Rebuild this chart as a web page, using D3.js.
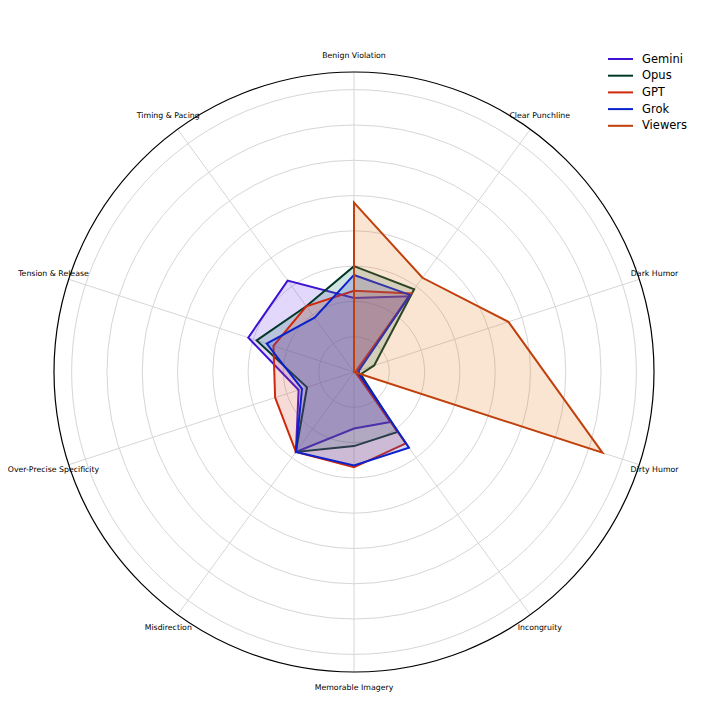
<!DOCTYPE html>
<html>
<head>
<meta charset="utf-8">
<script src="https://cdn.jsdelivr.net/npm/d3@7"></script>
<style>
  body { margin: 0; background: #fff; }
  svg { font-family: "DejaVu Sans", sans-serif; }
</style>
</head>
<body>
<div id="chart"></div>
<script>
const categories = [
  "Benign Violation", "Clear Punchline", "Dark Humor", "Dirty Humor", "Incongruity",
  "Memorable Imagery", "Misdirection", "Over-Precise Specificity", "Tension & Release", "Timing & Pacing"
];

const seriesNames = ["Gemini", "Opus", "GPT", "Grok", "Viewers"];

const gemini = [2.1, 2.65, 0.1, 0.1, 1.75, 1.6, 2.8, 1.65, 3.15, 3.2];
const opus = [3.0, 2.9, 0.6, 0.2, 2.1, 2.1, 2.8, 1.4, 2.9, 2.3];
const gpt = [2.3, 2.75, 0.05, 0.05, 2.5, 2.7, 2.8, 2.35, 2.4, 2.3];
const grok = [2.75, 2.7, 0.15, 0.15, 2.65, 2.65, 2.8, 1.55, 2.6, 1.9];
const viewers = [4.8, 3.3, 4.6, 7.4, 0, 0, 0, 0, 0, 0];

const ringTicks = [1, 2, 3, 4, 5, 6, 7, 8];
const rMax = 8.5;

const lineColors = ["#3d12d2", "#003828", "#d0280c", "#0a22cc", "#c0400c"];
const fillColors = ["#6a3df0", "#1a7a60", "#d94a30", "#2a3ad8", "#e07b20"];

const allSeries = [gemini, opus, gpt, grok, viewers];

const width = 720, height = 712;
const cx = 354, cy = 372;

const svg = d3.select("#chart")
  .append("svg")
  .attr("width", width)
  .attr("height", height);

const g = svg.append("g").attr("transform", `translate(${cx},${cy})`);

const r = d3.scaleLinear().domain([0, rMax]).range([0, 300]);
const angle = d3.scaleLinear().domain([0, categories.length]).range([0, 2 * Math.PI]);

// grid rings
g.selectAll("circle.ring")
  .data(ringTicks)
  .enter()
  .append("circle")
  .attr("class", "ring")
  .attr("r", (d) => r(d))
  .attr("fill", "none")
  .attr("stroke", "#d6d6d6")
  .attr("stroke-width", 1);

// spokes
g.selectAll("line.spoke")
  .data(categories)
  .enter()
  .append("line")
  .attr("x1", 0)
  .attr("y1", 0)
  .attr("x2", (d, i) => r(rMax) * Math.sin(angle(i)))
  .attr("y2", (d, i) => -r(rMax) * Math.cos(angle(i)))
  .attr("stroke", "#d6d6d6")
  .attr("stroke-width", 1);

// outer frame
g.append("circle")
  .attr("r", r(rMax))
  .attr("fill", "none")
  .attr("stroke", "#000")
  .attr("stroke-width", 1.2);

// labels
g.selectAll("text.cat")
  .data(categories)
  .enter()
  .append("text")
  .attr("x", (d, i) => (r(rMax) + 16) * Math.sin(angle(i)))
  .attr("y", (d, i) => -(r(rMax) + 16) * Math.cos(angle(i)))
  .attr("text-anchor", "middle")
  .attr("dominant-baseline", "middle")
  .attr("font-size", 7.8)
  .attr("fill", "#000")
  .text((d) => d);

const radial = d3.lineRadial()
  .angle((d, i) => angle(i))
  .radius((d) => r(d))
  .curve(d3.curveLinearClosed);

// series polygons
allSeries.forEach((vals, k) => {
  g.append("path")
    .datum(vals)
    .attr("d", radial)
    .attr("fill", fillColors[k])
    .attr("fill-opacity", 0.2)
    .attr("stroke", lineColors[k])
    .attr("stroke-width", 2)
    .attr("stroke-linejoin", "miter");
});

// legend
const legend = svg.append("g").attr("transform", "translate(608,59)");
const rows = legend.selectAll("g")
  .data(seriesNames)
  .enter()
  .append("g")
  .attr("transform", (d, i) => `translate(0, ${i * 16.7})`);

rows.append("line")
  .attr("x1", 0)
  .attr("x2", 25)
  .attr("stroke", (d, i) => lineColors[i])
  .attr("stroke-width", 2);

rows.append("text")
  .attr("x", 34)
  .attr("dominant-baseline", "middle")
  .attr("font-size", 11.5)
  .attr("fill", "#000")
  .text((d) => d);
</script>
</body>
</html>
